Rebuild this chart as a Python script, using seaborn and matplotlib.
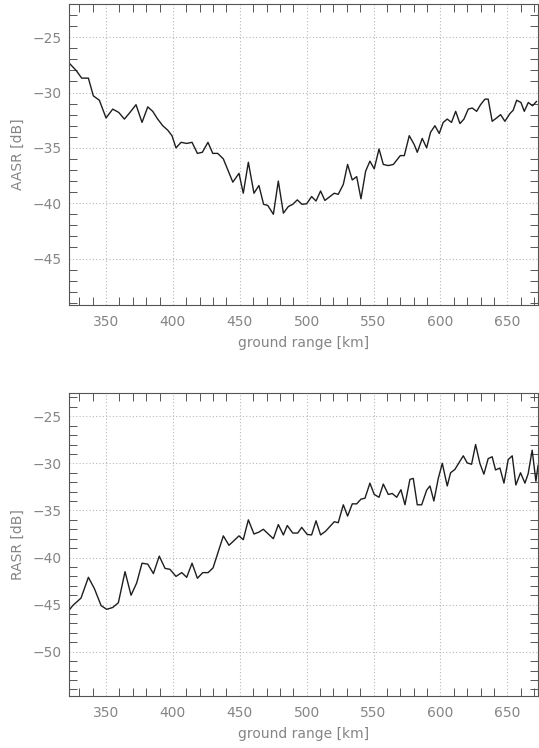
import numpy as np
import pandas as pd
import matplotlib
matplotlib.use("Agg")
import matplotlib.pyplot as plt
from matplotlib.ticker import MultipleLocator
import seaborn as sns

# Azimuth ambiguity-to-signal ratio along ground range
aasr_range_km = [
    322.1, 327.6, 331.8, 336.8, 340.5, 345.0, 350.0, 355.0, 359.5, 363.7,
    367.9, 372.4, 376.9, 381.2, 384.9, 388.6, 392.4, 396.1, 399.3, 402.3,
    406.1, 410.3, 414.3, 418.3, 422.0, 426.2, 429.8, 433.5, 437.7, 444.8,
    449.4, 452.6, 456.4, 460.6, 464.3, 467.8, 470.9, 475.1, 478.8, 482.6,
    486.3, 489.6, 493.0, 496.5, 500.0, 503.7, 507.0, 510.4, 513.6, 517.4,
    520.6, 523.6, 527.4, 530.6, 534.1, 537.4, 540.6, 544.1, 547.3, 550.5,
    554.1, 557.3, 561.0, 564.8, 570.0, 573.0, 576.7, 580.4, 582.7, 586.4,
    589.7, 592.6, 595.9, 599.1, 602.1, 605.1, 608.3, 611.4, 614.6, 617.6,
    620.8, 623.8, 627.1, 630.0, 633.3, 635.7, 638.7, 642.0, 645.0, 648.2,
    652.0, 654.4, 657.0, 660.2, 662.7, 665.7, 668.9, 671.9,
]
aasr_db = [
    -27.3, -28.0, -28.7, -28.7, -30.3, -30.7, -32.3, -31.5, -31.8, -32.4,
    -31.8, -31.1, -32.7, -31.3, -31.7, -32.4, -33.0, -33.4, -33.9, -35.0,
    -34.5, -34.6, -34.5, -35.5, -35.4, -34.5, -35.5, -35.5, -36.0, -38.1,
    -37.3, -39.1, -36.3, -39.1, -38.4, -40.1, -40.2, -41.0, -38.0, -40.9,
    -40.3, -40.1, -39.7, -40.1, -40.05, -39.4, -39.8, -38.9, -39.75, -39.4,
    -39.1, -39.2, -38.3, -36.5, -37.9, -37.6, -39.6, -37.1, -36.2, -36.9,
    -35.1, -36.5, -36.6, -36.5, -35.7, -35.7, -33.9, -34.7, -35.4, -34.15,
    -35.0, -33.6, -33.0, -33.7, -32.7, -32.4, -32.7, -31.7, -32.8, -32.4,
    -31.5, -31.4, -31.7, -31.1, -30.6, -30.6, -32.6, -32.3, -32.0, -32.6,
    -31.9, -31.6, -30.7, -30.9, -31.7, -30.9, -31.2, -30.8,
]

# Range ambiguity-to-signal ratio along ground range
rasr_range_km = [
    322.3, 325.1, 331.3, 336.8, 341.3, 346.3, 350.5, 355.0, 359.2, 364.2,
    368.7, 372.9, 376.9, 381.2, 385.4, 389.8, 394.1, 397.8, 402.3, 406.6,
    410.3, 414.3, 418.3, 422.3, 426.3, 430.0, 437.7, 441.9, 445.7, 449.4,
    452.6, 456.4, 460.6, 464.3, 467.6, 471.3, 475.1, 478.8, 482.6, 485.5,
    489.6, 493.3, 496.3, 500.4, 503.7, 507.0, 510.4, 514.2, 517.4, 520.6,
    523.6, 527.4, 530.6, 534.1, 537.4, 540.6, 543.6, 547.3, 550.5, 554.1,
    557.3, 561.0, 564.0, 567.3, 570.5, 573.5, 577.2, 579.7, 582.7, 586.0,
    589.7, 592.2, 595.1, 598.4, 601.4, 605.1, 607.6, 610.8, 613.8, 617.1,
    620.0, 623.3, 626.3, 629.5, 632.5, 635.7, 638.7, 641.2, 644.5, 647.5,
    650.7, 653.7, 656.4, 659.9, 663.2, 665.6, 668.6, 671.4, 673.0,
]
rasr_db = [
    -45.6, -45.1, -44.3, -42.1, -43.3, -45.1, -45.5, -45.3, -44.8, -41.5,
    -44.0, -42.7, -40.6, -40.7, -41.7, -39.85, -41.15, -41.25, -42.0, -41.6,
    -42.1, -40.6, -42.2, -41.6, -41.6, -41.1, -37.7, -38.7, -38.2, -37.7,
    -38.1, -36.0, -37.5, -37.3, -37.0, -37.5, -38.0, -36.5, -37.6, -36.6,
    -37.4, -37.4, -36.8, -37.55, -37.6, -36.1, -37.6, -37.2, -36.7, -36.2,
    -36.3, -34.4, -35.6, -34.3, -34.3, -33.8, -33.7, -32.1, -33.3, -33.6,
    -32.2, -33.3, -33.2, -33.6, -32.8, -34.4, -31.7, -31.6, -34.4, -34.4,
    -32.85, -32.4, -34.0, -31.6, -30.0, -32.4, -31.0, -30.65, -29.95, -29.2,
    -29.95, -30.1, -28.0, -30.0, -31.15, -29.5, -29.3, -30.7, -30.5, -32.1,
    -29.6, -29.2, -32.3, -31.0, -32.1, -31.1, -28.6, -31.9, -30.2,
]

x_ticks = [350, 400, 450, 500, 550, 600, 650]

sns.set_style("white")
plt.rcParams["font.family"] = ["DejaVu Sans"]
plt.rcParams["axes.unicode_minus"] = True

text_grey = "#858585"
frame_grey = "#555555"

fig = plt.figure(figsize=(5.39, 7.48), dpi=100)
ax_top = fig.add_axes([0.128, 0.5922, 0.870, 0.4025])
ax_bot = fig.add_axes([0.128, 0.0695, 0.870, 0.4055])

panels = [
    (ax_top, aasr_range_km, aasr_db, "AASR [dB]", (-49.2, -22.0)),
    (ax_bot, rasr_range_km, rasr_db, "RASR [dB]", (-54.7, -22.5)),
]

for ax, xr, yv, ylabel, ylim in panels:
    df = pd.DataFrame({"range": xr, "ratio": yv})
    sns.lineplot(data=df, x="range", y="ratio", ax=ax, color="#1e1e1e",
                 linewidth=1.0, sort=False, estimator=None)
    ax.set_xlim(322.3, 672.9)
    ax.set_ylim(*ylim)
    ax.set_xticks(x_ticks)
    ax.xaxis.set_minor_locator(MultipleLocator(10))
    ax.yaxis.set_major_locator(MultipleLocator(5))
    ax.yaxis.set_minor_locator(MultipleLocator(1))
    ax.grid(True, which="major", color="#b8b8b8", linestyle=(0, (1, 2)),
            linewidth=0.8)
    ax.tick_params(which="both", direction="in", top=True, right=True,
                   bottom=True, left=True, color=frame_grey, width=0.7)
    ax.tick_params(which="major", length=0)
    ax.tick_params(which="minor", length=6)
    ax.tick_params(axis="x", which="major", pad=7, labelsize=10,
                   labelcolor=text_grey)
    ax.tick_params(axis="y", which="major", pad=5, labelsize=10,
                   labelcolor=text_grey)
    for sp in ax.spines.values():
        sp.set_color(frame_grey)
        sp.set_linewidth(0.8)
    ax.set_xlabel("ground range [km]", fontsize=10, color=text_grey,
                  labelpad=5)
    ax.set_ylabel(ylabel, fontsize=10, color=text_grey, labelpad=6)

fig.savefig("out.png", dpi=100)
